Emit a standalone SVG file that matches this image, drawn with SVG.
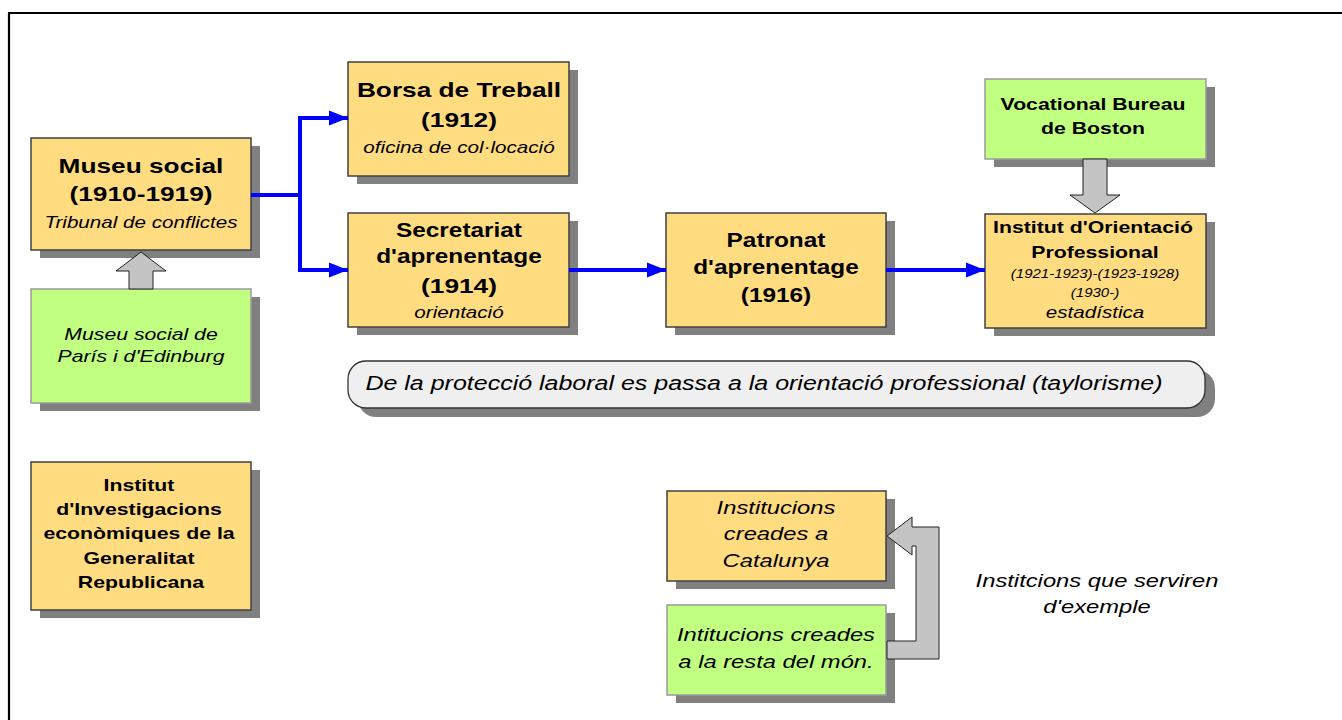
<svg xmlns="http://www.w3.org/2000/svg" width="1342" height="720" viewBox="0 0 1342 720">
<defs>
<style>
.sh{fill:#808080;}
.y{fill:#FFDC80;stroke:#404040;stroke-width:1.5;}
.g{fill:#C0FF80;stroke:#9A9A9A;stroke-width:1.5;}
.ga{fill:#C4C4C4;stroke:#222;stroke-width:1;}
text{font-family:"Liberation Sans",Arial,sans-serif;text-anchor:middle;fill:#000;}
.b21{font-weight:bold;font-size:21px;}
.b19{font-weight:bold;font-size:19.5px;}
.b17{font-weight:bold;font-size:17px;}
.i16{font-style:italic;font-size:16.5px;}
.i17{font-style:italic;font-size:17px;}
.i12{font-style:italic;font-size:12px;}
.i19{font-style:italic;font-size:19px;}
.i20{font-style:italic;font-size:20px;}
.blue{fill:none;stroke:#0000FF;stroke-width:4;}
</style>
<marker id="ah" markerUnits="userSpaceOnUse" markerWidth="20" markerHeight="16" refX="19" refY="8" orient="auto">
<path d="M0,0.5 L19,8 L0,15.5 z" fill="#0000FF"/>
</marker>
</defs>
<rect x="0" y="0" width="1342" height="720" fill="#FFFFFF"/>
<g id="frame" stroke="#000" stroke-width="2.2" fill="none">
<path d="M8,13 H1342 M9,13 V720"/>
</g>

<g id="museu-social">
<rect class="sh" x="40" y="146" width="220" height="112"/>
<rect class="y" x="31" y="138" width="220" height="112"/>
<text class="b21" transform="matrix(1.25 0 0 1 141 173)">Museu social</text>
<text class="b21" transform="matrix(1.25 0 0 1 141 201)">(1910-1919)</text>
<text class="i16" transform="matrix(1.25 0 0 1 141 228)">Tribunal de conflictes</text>
</g>

<g id="borsa-treball">
<rect class="sh" x="357" y="70" width="221" height="114"/>
<rect class="y" x="348" y="62" width="221" height="114"/>
<text class="b21" transform="matrix(1.25 0 0 1 459 97)">Borsa de Treball</text>
<text class="b21" transform="matrix(1.25 0 0 1 459 127)">(1912)</text>
<text class="i16" transform="matrix(1.25 0 0 1 459 153)">oficina de col·locació</text>
</g>

<g id="secretariat">
<rect class="sh" x="357" y="221" width="221" height="114"/>
<rect class="y" x="348" y="213" width="221" height="114"/>
<text class="b19" transform="matrix(1.25 0 0 1 459 237)">Secretariat</text>
<text class="b19" transform="matrix(1.25 0 0 1 459 263)">d'aprenentage</text>
<text class="b21" transform="matrix(1.25 0 0 1 459 293)">(1914)</text>
<text class="i16" transform="matrix(1.25 0 0 1 459 318)">orientació</text>
</g>

<g id="patronat">
<rect class="sh" x="675" y="221" width="220" height="114"/>
<rect class="y" x="666" y="213" width="220" height="114"/>
<text class="b19" transform="matrix(1.25 0 0 1 776 247)">Patronat</text>
<text class="b19" transform="matrix(1.25 0 0 1 776 274)">d'aprenentage</text>
<text class="b19" transform="matrix(1.25 0 0 1 776 302)">(1916)</text>
</g>

<g id="vocational-bureau">
<rect class="sh" x="994" y="87" width="221" height="80"/>
<rect class="g" x="985" y="79" width="221" height="80"/>
<text class="b17" transform="matrix(1.25 0 0 1 1093 110)">Vocational Bureau</text>
<text class="b17" transform="matrix(1.25 0 0 1 1093 134)">de Boston</text>
</g>

<g id="institut-orientacio">
<rect class="sh" x="994" y="222" width="221" height="114"/>
<rect class="y" x="985" y="214" width="221" height="114"/>
<text class="b17" transform="matrix(1.25 0 0 1 1093 233)">Institut d'Orientació</text>
<text class="b17" transform="matrix(1.25 0 0 1 1095 258)">Professional</text>
<text class="i12" transform="matrix(1.25 0 0 1 1095 278)">(1921-1923)-(1923-1928)</text>
<text class="i12" transform="matrix(1.25 0 0 1 1095 297)">(1930-)</text>
<text class="i16" transform="matrix(1.25 0 0 1 1095 318)">estadística</text>
</g>

<g id="arrow-boston">
<polygon class="ga" points="1083,159 1107,159 1107,195 1120,195 1095,213 1070,195 1083,195"/>
</g>

<g id="museu-paris">
<rect class="sh" x="40" y="297" width="220" height="114"/>
<rect class="g" x="31" y="289" width="220" height="114"/>
<text class="i17" transform="matrix(1.25 0 0 1 141 340)">Museu social de</text>
<text class="i17" transform="matrix(1.25 0 0 1 141 362)">París i d'Edinburg</text>
</g>

<g id="arrow-paris">
<polygon class="ga" points="129,289 153,289 153,271 166,271 141,252 116,271 129,271"/>
</g>

<g id="banner">
<rect class="sh" x="358" y="370" width="857" height="47" rx="18"/>
<rect x="348" y="361" width="857" height="47" rx="18" fill="#EFEFEF" stroke="#333" stroke-width="1.3"/>
<text class="i20" transform="matrix(1.25 0 0 1 764 390)">De la protecció laboral es passa a la orientació professional (taylorisme)</text>
</g>

<g id="institut-investigacions">
<rect class="sh" x="40" y="470" width="220" height="148"/>
<rect class="y" x="31" y="462" width="220" height="148"/>
<text class="b17" transform="matrix(1.25 0 0 1 139 491)">Institut</text>
<text class="b17" transform="matrix(1.25 0 0 1 139 515)">d'Investigacions</text>
<text class="b17" transform="matrix(1.25 0 0 1 139 539)">econòmiques de la</text>
<text class="b17" transform="matrix(1.25 0 0 1 139 564)">Generalitat</text>
<text class="b17" transform="matrix(1.25 0 0 1 141 588)">Republicana</text>
</g>

<g id="institucions-catalunya">
<rect class="sh" x="676" y="499" width="219" height="90"/>
<rect class="y" x="667" y="491" width="219" height="90"/>
<text class="i19" transform="matrix(1.25 0 0 1 776 514)">Institucions</text>
<text class="i19" transform="matrix(1.25 0 0 1 776 540)">creades a</text>
<text class="i19" transform="matrix(1.25 0 0 1 776 567)">Catalunya</text>
</g>

<g id="intitucions-mon">
<rect class="sh" x="676" y="613" width="219" height="90"/>
<rect class="g" x="667" y="605" width="219" height="90"/>
<text class="i19" transform="matrix(1.25 0 0 1 776 641)">Intitucions creades</text>
<text class="i19" transform="matrix(1.25 0 0 1 776 668)">a la resta del món.</text>
</g>

<g id="arrow-exemple">
<polygon class="ga" points="887,536 912,517 912,527 939,527 939,659 887,659 887,641 916,641 916,546 912,546 912,555"/>
</g>

<g id="label-exemple">
<text class="i19" transform="matrix(1.25 0 0 1 1097 587)">Institcions que serviren</text>
<text class="i19" transform="matrix(1.25 0 0 1 1097 613)">d'exemple</text>
</g>

<g id="connectors">
<path class="blue" d="M251,195 H300"/>
<path class="blue" d="M300,118 V270"/>
<path class="blue" d="M298,118 H348" marker-end="url(#ah)"/>
<path class="blue" d="M298,270 H348" marker-end="url(#ah)"/>
<path class="blue" d="M569,270 H666" marker-end="url(#ah)"/>
<path class="blue" d="M886,270 H985" marker-end="url(#ah)"/>
</g>
</svg>
